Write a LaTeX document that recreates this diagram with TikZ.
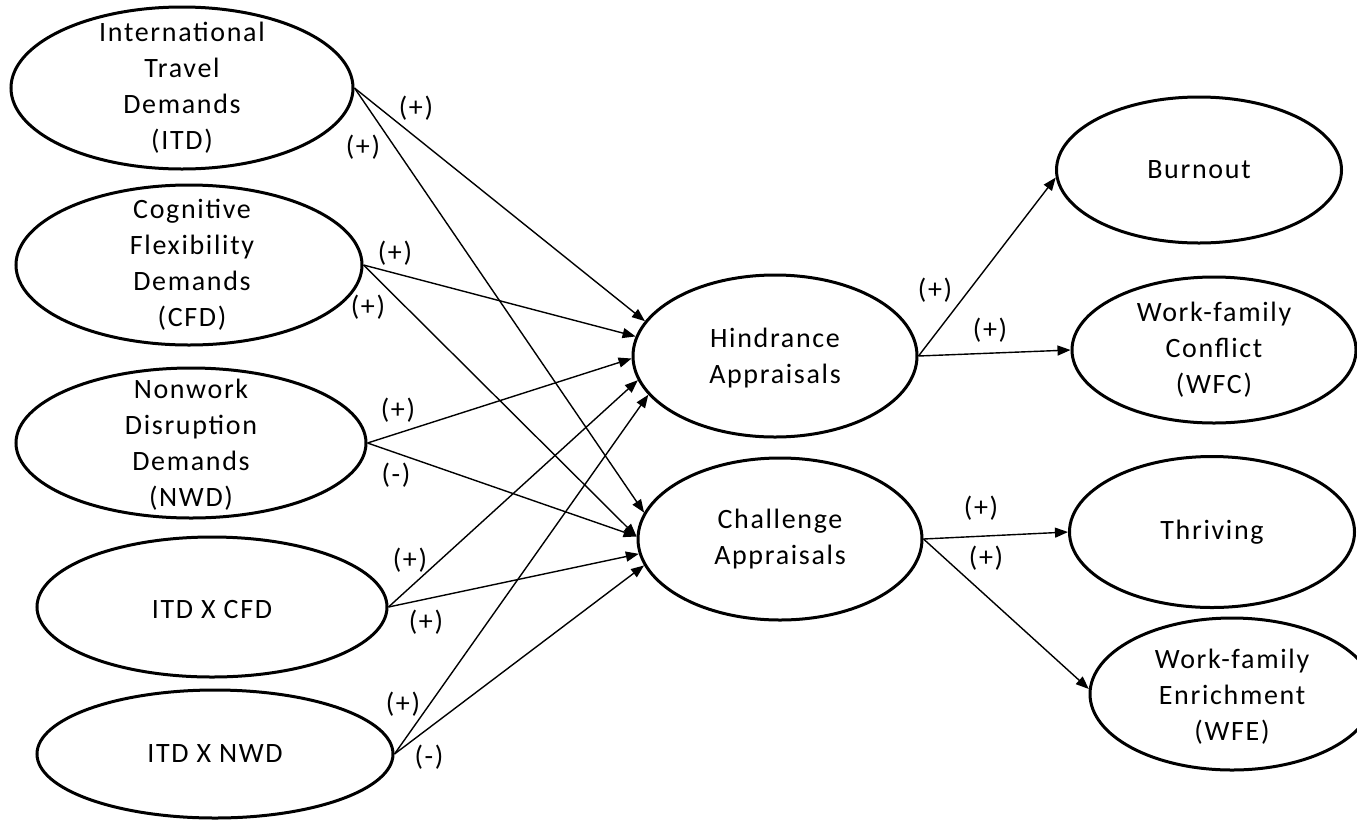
\documentclass[tikz,border=0pt]{standalone}
\usepackage{fontspec}
\setmainfont{Carlito}[LetterSpace=6]
\usetikzlibrary{shapes.geometric,arrows.meta}
\tikzset{
  ell/.style={draw, ellipse, line width=3pt, inner sep=0pt},
  txt/.style={align=center, font=\fontsize{28}{36}\selectfont, inner sep=0pt},
  arr/.style={line width=1.4pt, -{Triangle[length=13pt,width=10pt]}},
  sign/.style={font=\fontsize{28}{36}\selectfont, inner sep=0pt}
}
\begin{document}
\begin{tikzpicture}[x=1pt,y=-1pt]
\useasboundingbox (0,0) rectangle (1357,820);
\clip (0,0) rectangle (1357,820);
% source constructs
\node[ell, minimum width=342, minimum height=162, label={[txt]center:International\\Travel\\Demands\\(ITD)}] (ITD) at (182,88) {};
\node[ell, minimum width=346, minimum height=160, label={[txt,xshift=3pt]center:Cognitive\\Flexibility\\Demands\\(CFD)}] (CFD) at (189,265) {};
\node[ell, minimum width=350, minimum height=150, label={[txt,yshift=-2pt]center:Nonwork\\Disruption\\Demands\\(NWD)}] (NWD) at (191,443) {};
\node[ell, minimum width=350, minimum height=140, label={[txt,yshift=-2pt]center:ITD X CFD}] (IXC) at (212,607) {};
\node[ell, minimum width=356, minimum height=128, label={[txt]center:ITD X NWD}] (IXN) at (215,754) {};
% mediators
\node[ell, minimum width=284, minimum height=162, label={[txt,yshift=-2pt]center:Hindrance\\Appraisals}] (H) at (775,356) {};
\node[ell, minimum width=284, minimum height=162, label={[txt]center:Challenge\\Appraisals}] (C) at (780,539) {};
% outcomes
\node[ell, minimum width=285, minimum height=146, label={[txt]center:Burnout}] (B) at (1199,170) {};
\node[ell, minimum width=284, minimum height=146, label={[txt]center:Work-family\\Conflict\\(WFC)}] (WFC) at (1214,350) {};
\node[ell, minimum width=285, minimum height=151, label={[txt]center:Thriving}] (T) at (1212,532) {};
\node[ell, minimum width=284, minimum height=152, label={[txt,yshift=-3pt]center:Work-family\\Enrichment\\(WFE)}] (WFE) at (1232,694) {};
% connectors to Hindrance
\draw[arr] (ITD.east) -- (H.165);
\draw[arr] (CFD.east) -- (H.172.5);
\draw[arr] (NWD.east) -- (H.181);
\draw[arr] (IXC.east) -- (H.190);
\draw[arr] (IXN.east) -- (H.197);
% connectors to Challenge
\draw[arr] (ITD.east) -- (C.169);
\draw[arr] (CFD.east) -- (C.179);
\draw[arr] (NWD.east) -- (C.179);
\draw[arr] (IXC.east) -- (C.186.5);
\draw[arr] (IXN.east) -- (C.191);
% connectors to outcomes
\draw[arr] (H.east) -- (B.183);
\draw[arr] (H.east) -- (WFC.west);
\draw[arr] (C.east) -- (T.west);
\draw[arr] (C.east) -- (WFE.178);
% signs
\node[sign] (s1) at (416,108) {(+)};
\node[sign] (s2) at (363,147) {(+)};
\node[sign] (s3) at (395,253) {(+)};
\node[sign] (s4) at (368,307) {(+)};
\node[sign] (s5) at (398,410) {(+)};
\node[sign] (s6) at (396,475) {(-)};
\node[sign] (s7) at (410,560) {(+)};
\node[sign] (s8) at (426,622) {(+)};
\node[sign] (s9) at (403,704) {(+)};
\node[sign] (s10) at (429,757) {(-)};
\node[sign] (s11) at (935,290) {(+)};
\node[sign] (s12) at (990,330) {(+)};
\node[sign] (s13) at (981,508) {(+)};
\node[sign] (s14) at (986,558) {(+)};
\end{tikzpicture}
\end{document}
